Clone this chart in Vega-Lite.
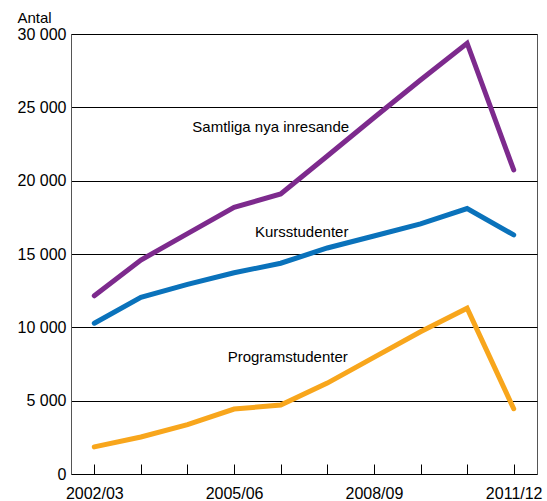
{
  "$schema": "https://vega.github.io/schema/vega-lite/v6.json",
  "width": 466,
  "height": 440,
  "autosize": {"type": "none"},
  "padding": {"left": 71, "top": 34, "right": 10, "bottom": 27},
  "background": "white",
  "config": {
    "font": "Liberation Sans",
    "view": {"stroke": "#555", "strokeWidth": 1}
  },
  "datasets": {
    "series": [
      {"year": "2002/03", "series": "Programstudenter", "value": 1850},
      {"year": "2003/04", "series": "Programstudenter", "value": 2520},
      {"year": "2004/05", "series": "Programstudenter", "value": 3370},
      {"year": "2005/06", "series": "Programstudenter", "value": 4430},
      {"year": "2006/07", "series": "Programstudenter", "value": 4700},
      {"year": "2007/08", "series": "Programstudenter", "value": 6200},
      {"year": "2008/09", "series": "Programstudenter", "value": 7950},
      {"year": "2009/10", "series": "Programstudenter", "value": 9700},
      {"year": "2010/11", "series": "Programstudenter", "value": 11300},
      {"year": "2011/12", "series": "Programstudenter", "value": 4450},
      {"year": "2002/03", "series": "Kursstudenter", "value": 10280},
      {"year": "2003/04", "series": "Kursstudenter", "value": 12050},
      {"year": "2004/05", "series": "Kursstudenter", "value": 12930},
      {"year": "2005/06", "series": "Kursstudenter", "value": 13720},
      {"year": "2006/07", "series": "Kursstudenter", "value": 14370},
      {"year": "2007/08", "series": "Kursstudenter", "value": 15410},
      {"year": "2008/09", "series": "Kursstudenter", "value": 16230},
      {"year": "2009/10", "series": "Kursstudenter", "value": 17050},
      {"year": "2010/11", "series": "Kursstudenter", "value": 18100},
      {"year": "2011/12", "series": "Kursstudenter", "value": 16300},
      {"year": "2002/03", "series": "Samtliga nya inresande", "value": 12150},
      {"year": "2003/04", "series": "Samtliga nya inresande", "value": 14590},
      {"year": "2004/05", "series": "Samtliga nya inresande", "value": 16390},
      {"year": "2005/06", "series": "Samtliga nya inresande", "value": 18180},
      {"year": "2006/07", "series": "Samtliga nya inresande", "value": 19090},
      {"year": "2007/08", "series": "Samtliga nya inresande", "value": 21680},
      {"year": "2008/09", "series": "Samtliga nya inresande", "value": 24290},
      {"year": "2009/10", "series": "Samtliga nya inresande", "value": 26860},
      {"year": "2010/11", "series": "Samtliga nya inresande", "value": 29370},
      {"year": "2011/12", "series": "Samtliga nya inresande", "value": 20730}
    ],
    "labels": [
      {"year": "2006/07", "value": 23650, "text": "Samtliga nya inresande"},
      {"year": "2006/07", "value": 16520, "text": "Kursstudenter"},
      {"year": "2006/07", "value": 8000, "text": "Programstudenter"}
    ]
  },
  "layer": [
    {
      "data": {"name": "series"},
      "mark": {"type": "line", "strokeWidth": 5, "strokeCap": "round"},
      "encoding": {
        "x": {
          "field": "year",
          "type": "ordinal",
          "scale": {"type": "point", "padding": 0.5},
          "axis": {
            "title": null,
            "domain": false,
            "grid": false,
            "ticks": true,
            "tickSize": -10,
            "tickColor": "#000",
            "tickWidth": 1,
            "labelAngle": 0,
            "labelFontSize": 16,
            "labelColor": "#000",
            "labelPadding": 21,
            "labelExpr": "indexof(['2002/03','2005/06','2008/09','2011/12'], datum.value) >= 0 ? datum.value : ''"
          }
        },
        "y": {
          "field": "value",
          "type": "quantitative",
          "scale": {"domain": [0, 30000], "nice": false},
          "axis": {
            "title": "Antal",
            "titleAngle": 0,
            "titleAlign": "left",
            "titleBaseline": "alphabetic",
            "titleX": -54,
            "titleY": -12,
            "titleFontSize": 15,
            "titleFontWeight": "normal",
            "titleColor": "#000",
            "values": [0, 5000, 10000, 15000, 20000, 25000, 30000],
            "labelExpr": "replace(format(datum.value, ','), ',', ' ')",
            "labelFontSize": 16,
            "labelColor": "#000",
            "labelPadding": 5,
            "ticks": false,
            "domain": true,
            "domainColor": "#555",
            "grid": true,
            "gridColor": "#000",
            "gridWidth": 1,
            "gridOpacity": 1
          }
        },
        "color": {
          "field": "series",
          "type": "nominal",
          "scale": {
            "domain": ["Programstudenter", "Kursstudenter", "Samtliga nya inresande"],
            "range": ["#f8a61c", "#0a72bb", "#7d2a8d"]
          },
          "legend": null
        },
        "order": {"field": "series"}
      }
    },
    {
      "data": {"name": "labels"},
      "transform": [{"filter": "datum.text == 'Samtliga nya inresande'"}],
      "mark": {"type": "text", "fontSize": 15, "color": "#000", "align": "center", "baseline": "middle", "dx": -10},
      "encoding": {
        "x": {"field": "year", "type": "ordinal"},
        "y": {"field": "value", "type": "quantitative"},
        "text": {"field": "text"}
      }
    },
    {
      "data": {"name": "labels"},
      "transform": [{"filter": "datum.text == 'Kursstudenter'"}],
      "mark": {"type": "text", "fontSize": 15, "color": "#000", "align": "center", "baseline": "middle", "dx": 21},
      "encoding": {
        "x": {"field": "year", "type": "ordinal"},
        "y": {"field": "value", "type": "quantitative"},
        "text": {"field": "text"}
      }
    },
    {
      "data": {"name": "labels"},
      "transform": [{"filter": "datum.text == 'Programstudenter'"}],
      "mark": {"type": "text", "fontSize": 15, "color": "#000", "align": "center", "baseline": "middle", "dx": 7},
      "encoding": {
        "x": {"field": "year", "type": "ordinal"},
        "y": {"field": "value", "type": "quantitative"},
        "text": {"field": "text"}
      }
    }
  ]
}
